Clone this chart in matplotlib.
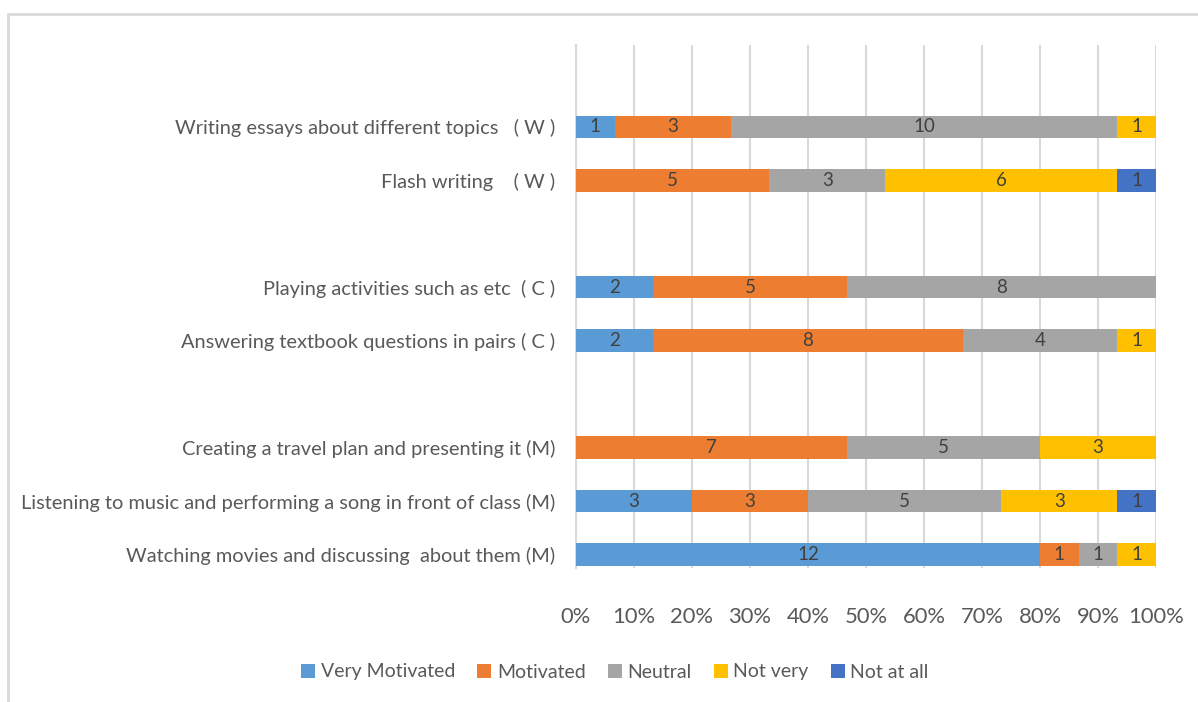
import matplotlib.pyplot as plt
import numpy as np
from matplotlib.patches import Rectangle

# Data (counts per response level, bottom to top as drawn)
categories = [
    'Watching movies and discussing  about them (M)',
    'Listening to music and performing a song in front of class (M)',
    'Creating a travel plan and presenting it (M)',
    '',
    'Answering textbook questions in pairs ( C )',
    'Playing activities such as etc  ( C )',
    '',
    'Flash writing    ( W )',
    'Writing essays about different topics   ( W )',
]
series_names = ['Very Motivated', 'Motivated', 'Neutral', 'Not very', 'Not at all']
very_motivated = [12, 3, 0, 0, 2, 2, 0, 0, 1]
motivated = [1, 3, 7, 0, 8, 5, 0, 5, 3]
neutral = [1, 5, 5, 0, 4, 8, 0, 3, 10]
not_very = [1, 3, 3, 0, 1, 0, 0, 6, 1]
not_at_all = [0, 1, 0, 0, 0, 0, 0, 1, 0]
x_ticks = [0, 10, 20, 30, 40, 50, 60, 70, 80, 90, 100]

COLORS = ['#5B9BD5', '#ED7D31', '#A5A5A5', '#FFC000', '#4472C4']
TEXT_GRAY = '#595959'
GRID_GRAY = '#D9D9D9'

plt.rcParams['font.family'] = ['Lato', 'DejaVu Sans']


def main():
    fig = plt.figure(figsize=(11.98, 7.02), dpi=100)
    ax = fig.add_axes([0.4808, 0.1909, 0.9649 - 0.4808, 0.9359 - 0.1909])

    # outer chart border (Excel style, cropped at right/bottom)
    fig.patches.append(Rectangle((8 / 1198, -0.1), 1.2, 0.1 + 1 - 14 / 702,
                                 transform=fig.transFigure, fill=False,
                                 edgecolor=GRID_GRAY, linewidth=2))

    data = np.array([very_motivated, motivated, neutral, not_very, not_at_all], dtype=float)
    totals = data.sum(axis=0)
    totals[totals == 0] = 1
    pct = data / totals * 100
    y = np.arange(len(categories))

    left = np.zeros(len(categories))
    for i, name in enumerate(series_names):
        bars = ax.barh(y, pct[i], left=left, height=0.42, color=COLORS[i],
                       label=name, zorder=3)
        labels = [f'{int(v)}' if v > 0 else '' for v in data[i]]
        ax.bar_label(bars, labels=labels, label_type='center',
                     color='#404040', fontsize=13.5, zorder=4)
        left += pct[i]

    ax.set_xlim(0, 100)
    ax.set_ylim(-0.25, 9.53)
    ax.set_xticks(x_ticks)
    ax.set_xticklabels([f'{t}%' for t in x_ticks], fontsize=15.8, color=TEXT_GRAY)
    ax.set_yticks(y)
    ax.set_yticklabels(categories, fontsize=14.4, color=TEXT_GRAY)
    ax.tick_params(length=0)
    ax.tick_params(axis='x', pad=28)
    ax.tick_params(axis='y', pad=15)
    ax.grid(axis='x', color=GRID_GRAY, linewidth=1.5, zorder=0)
    for side in ['top', 'right', 'bottom']:
        ax.spines[side].set_visible(False)
    ax.spines['left'].set_color(GRID_GRAY)
    ax.spines['left'].set_linewidth(1.5)

    fig.legend(loc='center', bbox_to_anchor=(615 / 1198, 1 - 672 / 702), ncol=5,
               frameon=False, fontsize=14, labelcolor=TEXT_GRAY,
               handlelength=0.7, handleheight=0.7, handletextpad=0.3,
               columnspacing=1.15)

    fig.savefig('out.png', dpi=100)


if __name__ == '__main__':
    main()
